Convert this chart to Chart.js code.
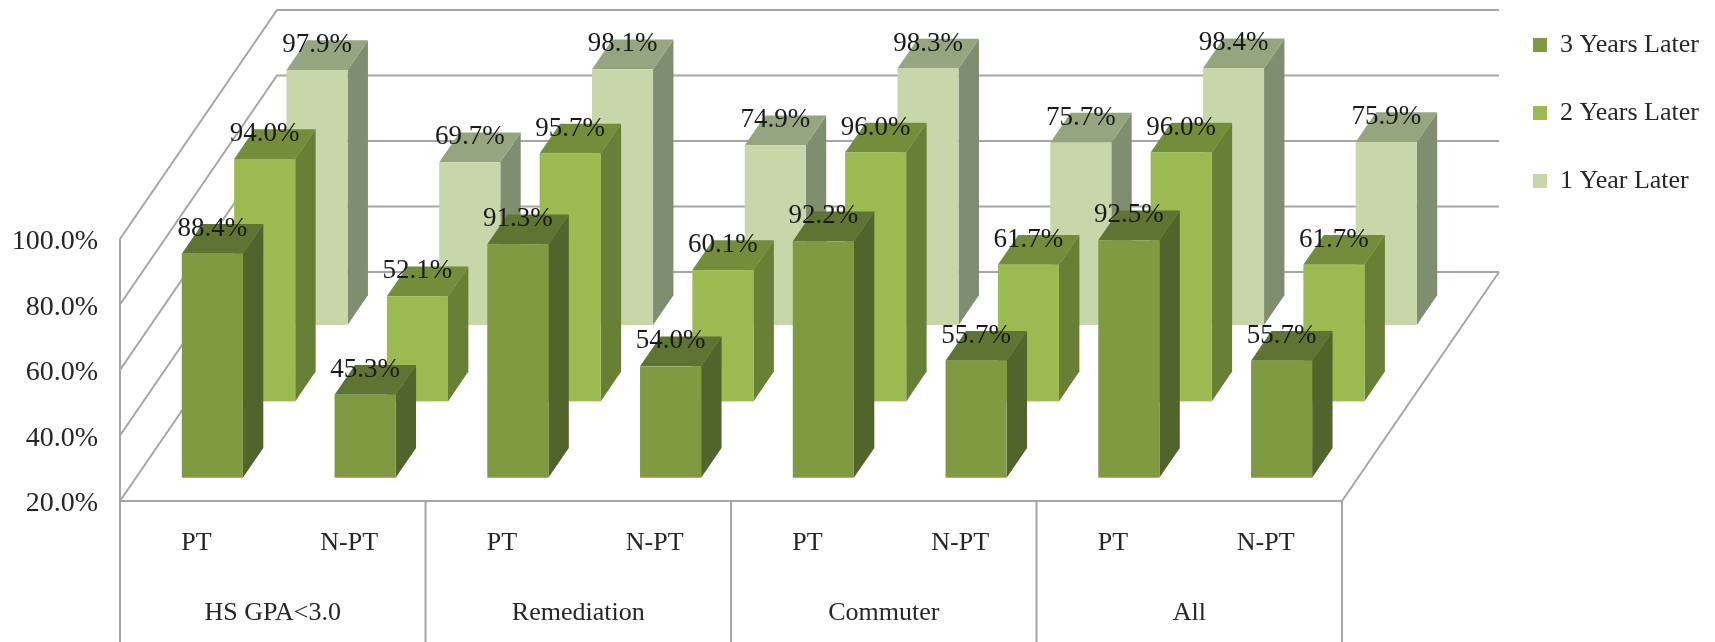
<!DOCTYPE html>
<html lang="en">
  <head>
    <meta charset="UTF-8" />
    <title>Retention by student group</title>
    <script src="https://cdn.jsdelivr.net/npm/chart.js@4/dist/chart.umd.min.js"></script>
    <style>
      html, body { margin: 0; background: #fff; }
      canvas { display: block; }
    </style>
  </head>
  <body>
    <canvas id="myChart" width="1715" height="642"></canvas>

    <script>
      const categories = ['PT', 'N-PT', 'PT', 'N-PT', 'PT', 'N-PT', 'PT', 'N-PT'];
      const groups = ['HS GPA<3.0', 'Remediation', 'Commuter', 'All'];
      const threeYears = [88.4, 45.3, 91.3, 54.0, 92.2, 55.7, 92.5, 55.7];
      const twoYears = [94.0, 52.1, 95.7, 60.1, 96.0, 61.7, 96.0, 61.7];
      const oneYear = [97.9, 69.7, 98.1, 74.9, 98.3, 75.7, 98.4, 75.9];

      // front / top / side colours of the boxes, front first row to back row
      const faces = [
        { front: '#809a42', top: '#5f7332', side: '#50642b' },
        { front: '#9bbb50', top: '#748d3b', side: '#687f36' },
        { front: '#c7d7a9', top: '#95a580', side: '#7f8e6e' }
      ];
      const lineColor = '#a6a6a6';
      const wallDx = 157;
      const wallDy = 229;
      const rowGap = 0.305;
      const boxDepth = 0.39;

      const box3d = {
        id: 'box3d',
        afterLayout(chart) {
          // the key sits right of the walls, outside the plot
          const legend = chart.legend;
          legend.left = 1491;
          legend.right = 1715;
          legend.top = -10;
          legend.bottom = 642;
        },
        beforeDatasetsDraw(chart) {
          const { ctx, scales } = chart;
          const { x, y } = scales;
          const base = y.getPixelForValue(y.min);

          ctx.save();
          ctx.strokeStyle = lineColor;
          ctx.lineWidth = 2;
          ctx.beginPath();
          // side and back walls
          y.ticks.forEach(t => {
            const py = y.getPixelForValue(t.value);
            ctx.moveTo(x.left, py);
            ctx.lineTo(x.left + wallDx, py - wallDy);
            ctx.lineTo(x.right + wallDx, py - wallDy);
          });
          ctx.moveTo(x.left, y.top);
          ctx.lineTo(x.left, chart.height);
          // floor front and right edge
          ctx.moveTo(x.left, base);
          ctx.lineTo(x.right, base);
          ctx.lineTo(x.right + wallDx, base - wallDy);
          // group dividers
          for (let i = 1; i <= groups.length; i++) {
            const px = x.left + (i * x.width) / groups.length;
            ctx.moveTo(px, base);
            ctx.lineTo(px, chart.height);
          }
          ctx.stroke();
          ctx.restore();

          // back row first so nearer boxes cover it
          for (let d = chart.data.datasets.length - 1; d >= 0; d--) {
            const ox = (wallDx * (d + rowGap)) / 3;
            const oy = (wallDy * (d + rowGap)) / 3;
            const bx = (wallDx * boxDepth) / 3;
            const by = (wallDy * boxDepth) / 3;
            chart.getDatasetMeta(d).data.forEach(bar => {
              const l = bar.x - bar.width / 2 + ox;
              const r = bar.x + bar.width / 2 + ox;
              const t = bar.y - oy;
              const b = bar.base - oy;
              ctx.fillStyle = faces[d].side;
              poly(ctx, [[r, t], [r + bx, t - by], [r + bx, b - by], [r, b]]);
              ctx.fillStyle = faces[d].top;
              poly(ctx, [[l, t], [r, t], [r + bx, t - by], [l + bx, t - by]]);
              ctx.fillStyle = faces[d].front;
              ctx.fillRect(l, t, r - l, b - t);
            });
          }

          // value labels over the top faces
          ctx.save();
          ctx.font = '27px "Liberation Serif"';
          ctx.fillStyle = '#1a1a1a';
          ctx.textAlign = 'center';
          ctx.textBaseline = 'middle';
          for (let d = chart.data.datasets.length - 1; d >= 0; d--) {
            const ox = (wallDx * (d + rowGap)) / 3;
            const oy = (wallDy * (d + rowGap)) / 3;
            const values = chart.data.datasets[d].data;
            chart.getDatasetMeta(d).data.forEach((bar, i) => {
              ctx.fillText(values[i].toFixed(1) + '%', bar.x + ox, bar.y - oy - 25);
            });
          }
          ctx.restore();
          return false;
        }
      };

      function poly(ctx, pts) {
        ctx.beginPath();
        pts.forEach((p, i) => (i ? ctx.lineTo(p[0], p[1]) : ctx.moveTo(p[0], p[1])));
        ctx.closePath();
        ctx.fill();
      }

      Chart.defaults.font.family = '"Liberation Serif"';
      Chart.defaults.font.size = 26;
      Chart.defaults.color = '#262626';

      new Chart(document.getElementById('myChart').getContext('2d'), {
        type: 'bar',
        plugins: [box3d],
        data: {
          labels: categories,
          datasets: [
            { label: '3 Years Later', data: threeYears, backgroundColor: faces[0].front, borderWidth: 0, base: 20 },
            { label: '2 Years Later', data: twoYears, backgroundColor: faces[1].front, borderWidth: 0, base: 20 },
            { label: '1 Year Later', data: oneYear, backgroundColor: faces[2].front, borderWidth: 0, base: 20 }
          ]
        },
        options: {
          responsive: false,
          animation: false,
          layout: { padding: { top: 239, right: 373, left: 0, bottom: 0 } },
          datasets: { bar: { grouped: false, categoryPercentage: 1, barPercentage: 0.4 } },
          plugins: {
            tooltip: { enabled: false },
            legend: {
              position: 'chartArea',
              align: 'start',
              labels: { boxWidth: 14, boxHeight: 14, padding: 42, font: { size: 26 } }
            }
          },
          scales: {
            x: {
              weight: 1,
              grid: { display: false },
              border: { display: false },
              ticks: { autoSkip: false, maxRotation: 0, padding: 19 },
              afterFit(scale) { scale.height = 70; }
            },
            group: {
              type: 'category',
              position: 'bottom',
              weight: 2,
              labels: groups,
              offset: true,
              grid: { display: false },
              border: { display: false },
              ticks: { autoSkip: false, maxRotation: 0, padding: 19 },
              afterFit(scale) { scale.height = 71; }
            },
            y: {
              min: 20,
              max: 100,
              grid: { display: false },
              border: { display: false },
              ticks: { stepSize: 20, padding: 14, labelOffset: 3, font: { size: 28 }, callback: v => v.toFixed(1) + '%' },
              afterFit(scale) { scale.width = 120; }
            }
          }
        }
      });
    </script>
  </body>
</html>
